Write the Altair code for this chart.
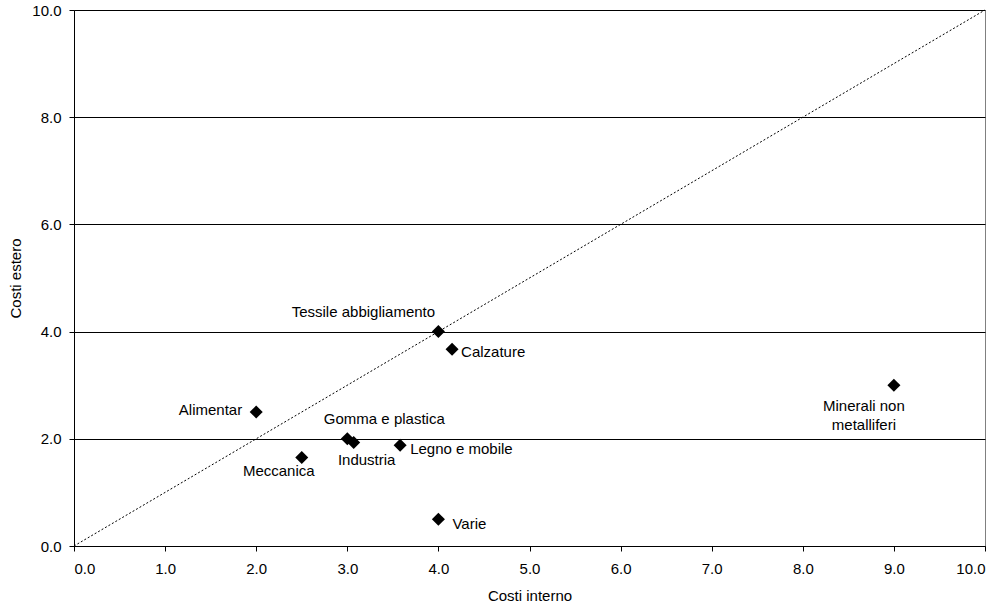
import altair as alt
import pandas as pd

# Sector cost indices: domestic (interno) vs foreign (estero)
settori = ["Alimentar", "Meccanica", "Gomma e plastica", "Industria", "Legno e mobile",
           "Varie", "Tessile abbigliamento", "Calzature", "Minerali non\nmetalliferi"]
costi_interno = [2.0, 2.5, 3.0, 3.07, 3.58, 4.0, 4.0, 4.15, 9.0]
costi_estero = [2.5, 1.65, 2.0, 1.93, 1.88, 0.5, 4.0, 3.67, 3.0]

# Label placement around each marker: (align, baseline, dx, dy)
label_style = {
    "Alimentar": ("right", "middle", -14, -2),
    "Meccanica": ("center", "middle", -23, 13),
    "Gomma e plastica": ("center", "middle", 37, -20),
    "Industria": ("center", "middle", 13, 17),
    "Legno e mobile": ("left", "middle", 10, 4),
    "Varie": ("left", "middle", 14, 5),
    "Tessile abbigliamento": ("center", "middle", -75, -20),
    "Calzature": ("left", "middle", 9, 3),
    "Minerali non\nmetalliferi": ("center", "top", -30, 14),
}

df = pd.DataFrame({"settore": settori, "interno": costi_interno, "estero": costi_estero})
diag = pd.DataFrame({"interno": [0.0, 10.0], "estero": [0.0, 10.0]})

ticks = [0, 1, 2, 3, 4, 5, 6, 7, 8, 9, 10]
yticks = [0, 2, 4, 6, 8, 10]

x = alt.X("interno:Q", title="Costi interno",
          scale=alt.Scale(domain=[0, 10], nice=False),
          axis=alt.Axis(values=ticks, format=".1f", grid=False, tickColor="black",
                        domainColor="black", tickSize=5, labelPadding=10, titlePadding=12))
y = alt.Y("estero:Q", title="Costi estero",
          scale=alt.Scale(domain=[0, 10], nice=False),
          axis=alt.Axis(values=yticks, format=".1f", grid=True, gridColor="black",
                        gridWidth=1, tickColor="black", domainColor="black",
                        tickSize=5, labelPadding=8, titlePadding=8))

line = alt.Chart(diag).mark_line(color="black", strokeDash=[2, 2], strokeWidth=1).encode(x=x, y=y)

points = alt.Chart(df).mark_point(shape="diamond", filled=True, color="black",
                                  size=170, opacity=1).encode(x=x, y=y)

labels = []
for name in settori:
    align, baseline, dx, dy = label_style[name]
    labels.append(
        alt.Chart(df).transform_filter(alt.datum.settore == name)
        .mark_text(align=align, baseline=baseline, dx=dx, dy=dy, fontSize=15,
                   font="Liberation Sans", color="black", lineBreak="\n", lineHeight=19)
        .encode(x="interno:Q", y="estero:Q", text="settore:N")
    )

chart = alt.layer(line, points, *labels).properties(
    width=911, height=536,
    background="white",
    autosize=alt.AutoSizeParams(type="none"),
    padding={"left": 74, "top": 10, "right": 19, "bottom": 60},
).configure_view(stroke="#808080", strokeWidth=1).configure_axis(
    labelFont="Liberation Sans", titleFont="Liberation Sans",
    labelFontSize=15, titleFontSize=15, titleFontWeight="normal",
    labelColor="black", titleColor="black", domainWidth=1,
)

chart.save("out.html", embed_options={"renderer": "svg", "actions": False})
